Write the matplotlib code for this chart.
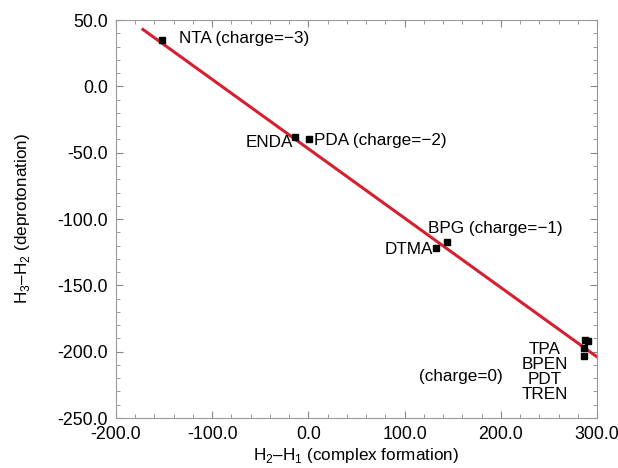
import matplotlib
matplotlib.use('Agg')
import matplotlib.pyplot as plt
import numpy as np
from matplotlib.ticker import MultipleLocator, FormatStrFormatter

plt.rcParams['font.family'] = ['Liberation Sans', 'DejaVu Sans']
plt.rcParams['mathtext.fontset'] = 'custom'
plt.rcParams['mathtext.rm'] = 'Liberation Sans'
plt.rcParams['axes.unicode_minus'] = True

# data points (H2-H1, H3-H2)
names = ['NTA', 'ENDA', 'PDA', 'BPG', 'DTMA', 'TPA', 'BPEN', 'PDT', 'TREN']
dh21 = [-152, -14, 1, 144, 133, 288, 291, 286, 287]
dh32 = [35, -38, -40, -117, -122, -191, -192, -197, -203]

# regression line
fit_x = [-172, 300]
fit_slope = -0.523
fit_icpt = -47.0

fig = plt.figure(figsize=(6.18, 4.68), dpi=100)
ax = fig.add_axes([0.1877, 0.1068, 0.7783, 0.8502])

fx = np.array(fit_x)
ax.plot(fx, fit_slope*fx + fit_icpt, color='#d42030', lw=2.2, zorder=2)
ax.plot(dh21, dh32, 's', color='black', ms=4, zorder=3)

fs = 12.3
ax.text(-134, 36, 'NTA (charge=\u22123)', fontsize=fs, va='center', ha='left')
ax.text(-16, -42, 'ENDA', fontsize=fs, va='center', ha='right')
ax.text(6, -41, 'PDA (charge=\u22122)', fontsize=fs, va='center', ha='left')
ax.text(124, -107, 'BPG (charge=\u22121)', fontsize=fs, va='center', ha='left')
ax.text(129.5, -123, 'DTMA', fontsize=fs, va='center', ha='right')
ax.text(246, -215, 'TPA\nBPEN\nPDT\nTREN', fontsize=fs, va='center', ha='center',
        linespacing=1.0)
ax.text(159, -219, '(charge=0)', fontsize=fs, va='center', ha='center')

ax.set_xlim(-200, 300)
ax.set_ylim(-250, 50)
ax.xaxis.set_major_locator(MultipleLocator(100))
ax.xaxis.set_minor_locator(MultipleLocator(20))
ax.yaxis.set_major_locator(MultipleLocator(50))
ax.yaxis.set_minor_locator(MultipleLocator(10))
ax.xaxis.set_major_formatter(FormatStrFormatter('%.1f'))
ax.yaxis.set_major_formatter(FormatStrFormatter('%.1f'))
ax.tick_params(which='both', direction='in', top=True, right=True,
               labelsize=12.8, color='#888888')
ax.tick_params(which='major', length=5)
ax.tick_params(which='minor', length=3)
ax.tick_params(axis='y', pad=6)
ax.tick_params(axis='x', pad=6)
for s in ax.spines.values():
    s.set_color('#999999')

ax.set_xlabel('H$_2$\u2013H$_1$ (complex formation)', fontsize=12.3, labelpad=2)
ax.set_ylabel('H$_3$\u2013H$_2$ (deprotonation)', fontsize=12.3, labelpad=18)

fig.savefig('out.png', dpi=100)
